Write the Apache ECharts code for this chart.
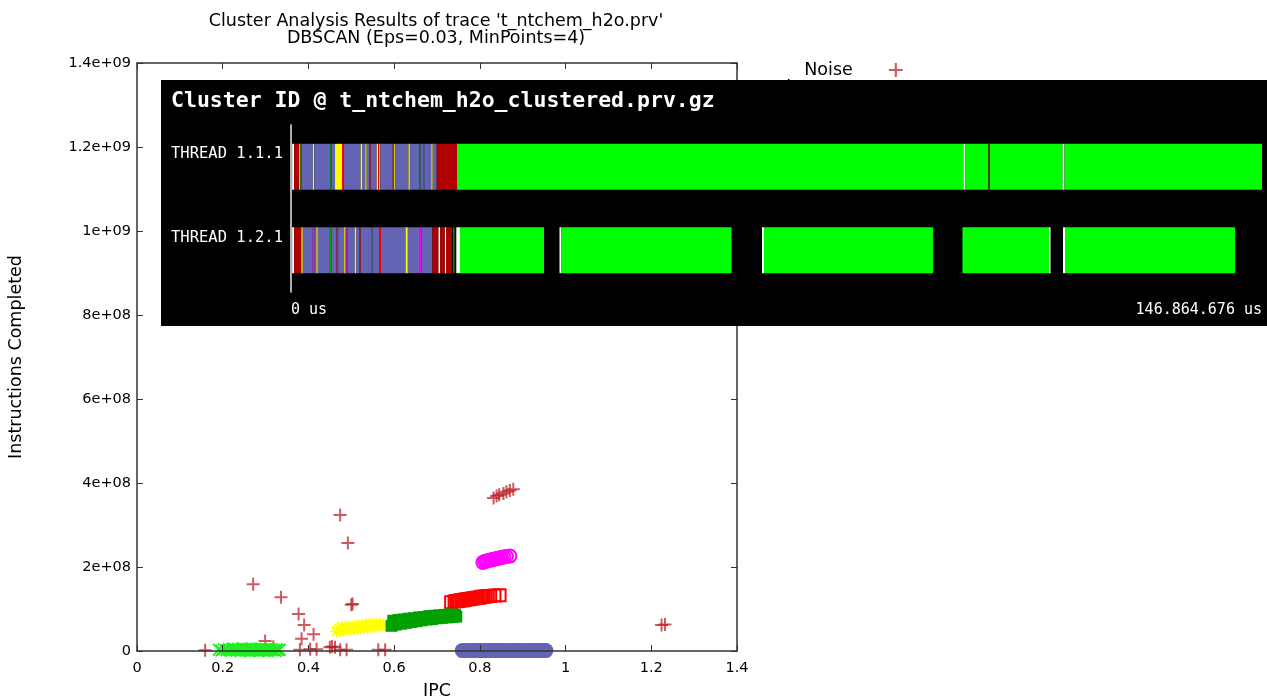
<!DOCTYPE html>
<html>
<head>
<meta charset="utf-8">
<script src="https://cdn.jsdelivr.net/npm/echarts@6/dist/echarts.min.js"></script>
<style>
  html, body { margin: 0; padding: 0; background: #fff; }
  #chart { width: 1267px; height: 700px; }
</style>
</head>
<body>
<div id="chart"></div>
<script>
// scatter data: [IPC, instructions completed]
var noise = [[0.474,3.24e8],[0.492,2.57e8],[0.271,1.59e8],[0.336,1.28e8],[0.500,1.10e8],[0.503,1.12e8],
  [0.377,8.8e7],[0.390,6.2e7],[0.412,4.0e7],[0.384,2.9e7],[0.299,2.4e7],[0.318,1.0e7],[0.159,2e6],
  [0.380,3e6],[0.404,4e6],[0.419,4e6],[0.450,9e6],[0.455,1.1e7],[0.462,9e6],[0.474,3e6],[0.489,3e6],
  [0.563,3e6],[0.579,3e6],[0.832,3.64e8],[0.839,3.69e8],[0.845,3.72e8],[0.855,3.75e8],[0.862,3.79e8],
  [0.870,3.82e8],[0.878,3.85e8],[1.224,6.2e7],[1.232,6.3e7]];
var cluster1 = [[0.191,3e6],[0.197,1e6],[0.203,4e6],[0.209,2e6],[0.214,5e6],[0.218,1e6],[0.221,3e6],
  [0.224,6e6],[0.227,2e6],[0.230,4e6],[0.233,1e6],[0.236,5e6],[0.239,3e6],[0.242,0],[0.245,6e6],
  [0.248,2e6],[0.251,4e6],[0.254,1e6],[0.257,5e6],[0.260,3e6],[0.263,0],[0.266,6e6],[0.269,2e6],
  [0.272,4e6],[0.275,1e6],[0.278,5e6],[0.281,3e6],[0.284,0],[0.287,6e6],[0.290,2e6],[0.293,4e6],
  [0.296,1e6],[0.299,5e6],[0.302,3e6],[0.305,0],[0.308,4e6],[0.311,2e6],[0.314,5e6],[0.317,1e6],
  [0.320,3e6],[0.323,0],[0.326,4e6],[0.329,2e6],[0.333,3e6]];
var cluster2 = [[0.466,4.7e7],[0.470,5.4e7],[0.474,4.9e7],[0.478,5.5e7],[0.482,5.0e7],[0.486,5.6e7],
  [0.490,5.1e7],[0.494,5.7e7],[0.498,5.2e7],[0.502,5.8e7],[0.506,5.3e7],[0.510,5.9e7],[0.514,5.4e7],
  [0.518,6.0e7],[0.522,5.5e7],[0.526,6.1e7],[0.530,5.6e7],[0.534,6.2e7],[0.538,5.7e7],[0.542,6.3e7],
  [0.546,5.8e7],[0.550,6.4e7],[0.554,5.9e7],[0.558,6.4e7],[0.562,6.0e7],[0.566,6.5e7],[0.570,6.0e7],
  [0.575,6.3e7]];
var cluster3 = [[0.733,1.16e8],[0.741,1.18e8],[0.745,1.19e8],[0.749,1.19e8],[0.753,1.20e8],[0.757,1.21e8],
  [0.761,1.21e8],[0.765,1.22e8],[0.769,1.23e8],[0.773,1.23e8],[0.777,1.24e8],[0.781,1.25e8],
  [0.785,1.25e8],[0.789,1.26e8],[0.793,1.27e8],[0.797,1.27e8],[0.801,1.28e8],[0.805,1.29e8],
  [0.809,1.29e8],[0.813,1.30e8],[0.818,1.31e8],[0.824,1.31e8],[0.834,1.32e8],[0.846,1.33e8]];
var cluster4 = [[0.594,6.0e7],[0.598,7.2e7],[0.604,6.3e7],[0.610,7.4e7],[0.616,6.5e7],[0.622,7.5e7],
  [0.628,6.7e7],[0.634,7.7e7],[0.640,6.9e7],[0.646,7.8e7],[0.652,7.1e7],[0.658,8.0e7],[0.664,7.3e7],
  [0.670,8.1e7],[0.676,7.5e7],[0.682,8.3e7],[0.688,7.6e7],[0.694,8.4e7],[0.700,7.8e7],[0.706,8.5e7],
  [0.712,7.9e7],[0.718,8.6e7],[0.724,8.0e7],[0.730,8.7e7],[0.736,8.1e7],[0.742,8.6e7],[0.745,8.2e7]];
var cluster5 = [[0.807,2.11e8],[0.811,2.13e8],[0.815,2.14e8],[0.819,2.15e8],[0.823,2.16e8],[0.827,2.17e8],
  [0.831,2.18e8],[0.835,2.19e8],[0.839,2.20e8],[0.843,2.21e8],[0.847,2.22e8],[0.851,2.23e8],
  [0.856,2.24e8],[0.862,2.25e8],[0.870,2.26e8]];
var cluster6 = [[0.759,1e6],[0.765,1e6],[0.771,1e6],[0.777,1e6],[0.783,1e6],[0.789,1e6],[0.795,1e6],
  [0.801,1e6],[0.807,1e6],[0.813,1e6],[0.819,1e6],[0.825,1e6],[0.831,1e6],[0.837,1e6],[0.843,1e6],
  [0.849,1e6],[0.855,1e6],[0.861,1e6],[0.867,1e6],[0.873,1e6],[0.879,1e6],[0.885,1e6],[0.891,1e6],
  [0.897,1e6],[0.903,1e6],[0.909,1e6],[0.915,1e6],[0.921,1e6],[0.927,1e6],[0.933,1e6],[0.939,1e6],
  [0.945,1e6],[0.950,1e6],[0.954,1e6]];

var yTicks = ['0','2e+08','4e+08','6e+08','8e+08','1e+09','1.2e+09','1.4e+09'];

// timeline: [start us, end us, cluster code]  0 noise, 1..6 clusters, 7 filtered
var threads = ['THREAD 1.1.1', 'THREAD 1.2.1'];
var traceEnd = 146864676;
var thread1 = [[170000,480000,7],[480000,1240000,0],[1240000,1410000,2],[1470000,1620000,4],
  [1620000,3300000,6],[3300000,3510000,2],[3510000,5940000,6],[5940000,6160000,4],[6160000,6660000,6],
  [6660000,7710000,2],[7710000,7940000,3],[7940000,10530000,6],[10530000,10740000,2],[10740000,11240000,6],
  [11240000,11450000,2],[11450000,11890000,6],[11890000,12040000,3],[12040000,12960000,6],
  [12960000,13170000,2],[13170000,13340000,3],[13340000,13510000,2],[13510000,15400000,6],
  [15400000,15610000,3],[15610000,15780000,2],[15780000,17770000,6],[17770000,17980000,2],
  [17980000,19390000,6],[19390000,19600000,4],[19600000,19980000,6],[19980000,20150000,4],
  [20150000,21220000,6],[21220000,21430000,2],[21430000,22040000,6],[22040000,25110000,0],
  [25110000,101720000,1],[101720000,102020000,7],[102020000,105500000,1],[105500000,105720000,0],
  [105720000,116690000,1],[116690000,116990000,7],[116990000,146864676,1]];
var thread2 = [[170000,480000,7],[480000,1570000,0],[1570000,1780000,2],[1780000,3300000,6],
  [3300000,3570000,5],[3570000,3840000,6],[3840000,4050000,2],[4050000,5880000,6],[5880000,6110000,4],
  [6110000,6910000,6],[6910000,7120000,3],[7120000,8050000,6],[8050000,8260000,2],[8260000,8380000,6],
  [8380000,8530000,5],[8530000,9660000,6],[9660000,9890000,2],[9890000,10320000,6],[10320000,10530000,3],
  [10530000,12100000,6],[12100000,12310000,4],[12310000,13400000,6],[13400000,13610000,3],
  [13610000,17330000,6],[17330000,17670000,2],[17670000,19500000,6],[19500000,19770000,5],
  [19770000,21390000,6],[21390000,22310000,0],[22310000,22570000,7],[22570000,23280000,0],
  [23280000,23490000,7],[23490000,24350000,0],[24520000,24730000,4],[25000000,25560000,7],
  [25560000,38270000,1],[40610000,40910000,7],[40910000,66630000,1],[71240000,71540000,7],
  [71540000,97100000,1],[101560000,114650000,1],[114650000,114880000,7],[116770000,117070000,7],
  [117070000,142780000,1]];

var timelineColors = ['#b00000','#00ff00','#ffff00','#ff0000','#00a000','#ff00ff','#6464b4','#ffffff'];

var PLUS = 'path://M5.5,0H7.5V5.5H13V7.5H7.5V13H5.5V7.5H0V5.5H5.5Z';
var CROSS = 'path://M0,1.2L1.2,0L6,4.8L10.8,0L12,1.2L7.2,6L12,10.8L10.8,12L6,7.2L1.2,12L0,10.8L4.8,6Z';
var STAR = 'path://M5.3,0H6.7V5.3H12V6.7H6.7V12H5.3V6.7H0V5.3H5.3Z M1,2L2,1L6,5L10,1L11,2L7,6L11,10L10,11L6,7L2,11L1,10L5,6Z';

var segData = [];
[thread1, thread2].forEach(function(list, ti) {
  list.forEach(function(s) { segData.push([s[0], s[1], ti, s[2]]); });
});

var font = 'DejaVu Sans';
var mono = 'DejaVu Sans Mono';
var axisCol = '#333';

// gnuplot style border: all four sides, ticks pointing inwards
function borderAxis(extra) {
  var base = {
    type: 'value', gridIndex: 0, z: 5,
    axisLine: { onZero: false, lineStyle: { color: axisCol, width: 1.5 } },
    axisTick: { inside: true, length: 6, lineStyle: { color: axisCol } },
    splitLine: { show: false }
  };
  return Object.assign(base, extra);
}

var chart = echarts.init(document.getElementById('chart'));

var option = {
  animation: false,
  title: {
    text: "Cluster Analysis Results of trace 't_ntchem_h2o.prv'\nDBSCAN (Eps=0.03, MinPoints=4)",
    left: 431, top: 8, textAlign: 'center',
    textStyle: { fontFamily: font, fontSize: 17.5, fontWeight: 'normal', color: '#000', lineHeight: 17 }
  },
  legend: {
    orient: 'vertical', left: 769, top: 56, align: 'right',
    itemWidth: 14, itemHeight: 14, itemGap: 0,
    textStyle: { fontFamily: font, fontSize: 17.5, lineHeight: 17, color: '#000', padding: [0, 31, 0, 0] },
    data: ['Noise','Cluster 1','Cluster 2','Cluster 3','Cluster 4','Cluster 5','Cluster 6']
  },
  grid: [
    { left: 137, right: 530, top: 63, bottom: 49, outerBoundsMode: 'none' },
    { left: 291, right: 5, top: 125, height: 167, zlevel: 1, z: 5, outerBoundsMode: 'none' }
  ],
  graphic: [
    { type: 'rect', zlevel: 1, z: 0, shape: { x: 161, y: 80, width: 1106, height: 246 }, style: { fill: '#000' } },
    { type: 'text', zlevel: 1, z: 10, x: 171, y: 101,
      style: { text: 'Cluster ID @ t_ntchem_h2o_clustered.prv.gz', fill: '#fff',
               font: 'bold 21.5px "DejaVu Sans Mono"', verticalAlign: 'middle' } }
  ],
  xAxis: [
    borderAxis({ min: 0, max: 1.4, interval: 0.2, position: 'bottom',
      name: 'IPC', nameLocation: 'middle', nameGap: 31,
      nameTextStyle: { fontFamily: font, fontSize: 17.5, color: '#000' },
      axisLabel: { fontFamily: font, fontSize: 14.5, color: '#000', margin: 10 } }),
    borderAxis({ min: 0, max: 1.4, interval: 0.2, position: 'top', axisLabel: { show: false } }),
    { type: 'value', gridIndex: 1, min: 0, max: traceEnd, interval: traceEnd, zlevel: 1, z: 20,
      axisLine: { onZero: false, lineStyle: { color: '#e8e8e8', width: 1.5 } },
      axisTick: { show: false }, splitLine: { show: false },
      axisLabel: { color: '#fff', fontFamily: mono, fontSize: 15, margin: 11,
        alignMinLabel: 'left', alignMaxLabel: 'right',
        formatter: function(v) {
          if (v === 0) return '0 us';
          return String(Math.round(v)).replace(/\B(?=(\d{3})+(?!\d))/g, '.') + ' us';
        } } }
  ],
  yAxis: [
    borderAxis({ min: 0, max: 1.4e9, interval: 2e8, position: 'left',
      name: 'Instructions Completed', nameLocation: 'middle', nameGap: 112,
      nameTextStyle: { fontFamily: font, fontSize: 17.5, color: '#000' },
      axisLabel: { fontFamily: font, fontSize: 14.5, color: '#000', margin: 6,
        formatter: function(v) { return yTicks[Math.round(v / 2e8)]; } } }),
    borderAxis({ min: 0, max: 1.4e9, interval: 2e8, position: 'right', axisLabel: { show: false } }),
    { type: 'category', gridIndex: 1, data: threads, inverse: true, zlevel: 1, z: 20,
      axisLine: { onZero: false, lineStyle: { color: '#e8e8e8', width: 1.5 } },
      axisTick: { show: false }, splitLine: { show: false },
      axisLabel: { margin: 8, formatter: function(v) { return '{t|' + v + '}'; },
        rich: { t: { color: '#fff', fontFamily: mono, fontSize: 15.5, padding: [0, 0, 25, 0] } } } }
  ],
  series: [
    { name: 'Noise', type: 'scatter', xAxisIndex: 0, yAxisIndex: 0, data: noise,
      symbol: PLUS, symbolSize: 13, itemStyle: { color: '#b8141e', opacity: 0.7 } },
    { name: 'Cluster 1', type: 'scatter', xAxisIndex: 0, yAxisIndex: 0, data: cluster1,
      symbol: CROSS, symbolSize: 13, itemStyle: { color: '#1ef01e', opacity: 1 } },
    { name: 'Cluster 2', type: 'scatter', xAxisIndex: 0, yAxisIndex: 0, data: cluster2,
      symbol: STAR, symbolSize: 13, itemStyle: { color: '#ffff00', opacity: 1 } },
    { name: 'Cluster 3', type: 'scatter', xAxisIndex: 0, yAxisIndex: 0, data: cluster3,
      symbol: 'rect', symbolSize: 12,
      itemStyle: { color: 'rgba(255,255,255,0)', borderColor: '#ff0000', borderWidth: 2, opacity: 1 } },
    { name: 'Cluster 4', type: 'scatter', xAxisIndex: 0, yAxisIndex: 0, data: cluster4,
      symbol: 'rect', symbolSize: 12, itemStyle: { color: '#00a000', opacity: 1 } },
    { name: 'Cluster 5', type: 'scatter', xAxisIndex: 0, yAxisIndex: 0, data: cluster5,
      symbol: 'circle', symbolSize: 13,
      itemStyle: { color: 'rgba(255,255,255,0)', borderColor: '#ff00ff', borderWidth: 2, opacity: 1 } },
    { name: 'Cluster 6', type: 'scatter', xAxisIndex: 0, yAxisIndex: 0, data: cluster6,
      symbol: 'circle', symbolSize: 15, itemStyle: { color: '#6464b4', opacity: 1 } },
    { name: 'timeline', type: 'custom', xAxisIndex: 2, yAxisIndex: 2, zlevel: 1, z: 10,
      data: segData, encode: { x: [0, 1], y: 2 },
      renderItem: function(params, api) {
        var row = api.value(2);
        var a = api.coord([api.value(0), row]);
        var b = api.coord([api.value(1), row]);
        var h = api.size([0, 1])[1] * 0.55;
        return {
          type: 'rect',
          shape: { x: a[0], y: a[1] - h / 2, width: Math.max(b[0] - a[0], 1), height: h },
          style: { fill: timelineColors[api.value(3)] }
        };
      } }
  ]
};

chart.setOption(option);
</script>
</body>
</html>
